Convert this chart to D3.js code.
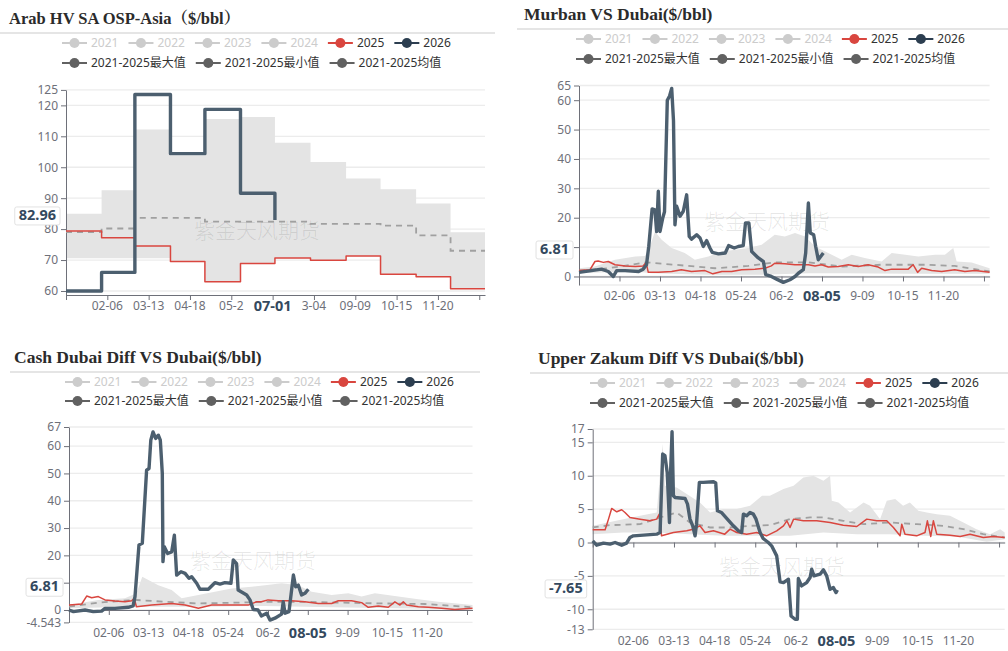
<!DOCTYPE html>
<html>
<head>
<meta charset="utf-8">
<script src="https://cdn.jsdelivr.net/npm/d3@7"></script>
<style>
  body { margin: 0; background: #fff; }
  svg { display: block; }
</style>
</head>
<body>
<svg id="chart" width="1008" height="651"></svg>
<script>
// legend entries
var legendYears = ["2021", "2022", "2023", "2024", "2025", "2026"];
var legendStats = ["2021-2025最大值", "2021-2025最小值", "2021-2025均值"];

// x axis labels (ticks every 36 days, day 36 .. 324)
var ospDateLabels = ["02-06", "03-13", "04-18", "05-2", "07-01", "3-04", "09-09", "10-15", "11-20"];
var diffDateLabels = ["02-06", "03-13", "04-18", "05-24", "06-2", "08-05", "9-09", "10-15", "11-20"];

// panel 1 : Arab HV OSP, monthly (day index of month start)
var ospMonthStart = [0, 31, 60, 91, 121, 152, 182, 213, 244, 274, 305, 335];
var osp2025 = [79.4, 77.2, 74.5, 69.5, 63.0, 68.9, 70.7, 69.9, 71.3, 65.4, 64.6, 60.7];
var osp2026 = [60.0, 66.0, 123.5, 104.4, 118.7, 91.6, 82.96];
var ospMax = [85.0, 92.6, 112.2, 103.8, 115.6, 116.2, 107.9, 101.7, 96.4, 92.9, 88.3, 79.0];
var ospMin = [70.6, 70.6, 70.6, 69.5, 63.0, 68.9, 70.7, 69.9, 71.3, 65.4, 64.6, 60.7];
var ospMean = [79.0, 80.2, 83.6, 83.6, 82.4, 82.4, 82.4, 81.7, 81.7, 81.1, 78.0, 73.0];

// panel 2 : Murban vs Dubai  [day, value]
var murban2026 = [[0,1.4],[11,2],[20,2.5],[26,1.7],[30.5,0],[33.5,2],[41,2],[53,1.7],[57,2.5],[60,4],[62,10.2],[65,23],[67.5,22.7],
  [69,15.3],[70.5,29],[72,15.3],[74.5,20],[76,22],[78.5,60],[80.5,61.4],[82.4,64],[84,53],[85.3,17.6],[86.8,23.9],[89.8,20.5],
  [92.7,22.2],[95.7,27.8],[98,13.6],[100,12.7],[104.6,14.2],[107.6,13.1],[110.5,10.2],[113.5,12.2],[116.4,9.7],[118.5,8.2],
  [124,7.7],[130,8],[133,10.5],[138,9.7],[141.6,10.2],[146,10.5],[148,18.2],[151,18.2],[153.5,8.5],[159.4,6.3],[163.9,5.1],
  [166,0.6],[171,0],[175.7,-0.9],[181.6,-2],[187.5,-1.1],[192,0],[195,1.1],[199.4,2.3],[201.5,8],[203.9,25],[205.6,14.8],
  [208.6,14.2],[210.4,10.2],[212.7,5.7],[217.2,8]];
var murban2025 = [[0,2],[9.8,2.3],[14.2,5.1],[17,5.3],[21.6,4.8],[26,5.1],[32,4],[41,3.6],[50,3.4],[57,3.6],[59.6,4.8],[61.6,1.4],
  [70.5,1.4],[82.4,1.7],[91,2.3],[100,1.7],[112,2],[119,0.9],[127,1.7],[135.7,1.7],[144.6,2.3],[156.4,2.5],[165.3,2.8],[171,3.6],
  [174,4.5],[183,4.3],[192,4],[204,4],[209.8,3.6],[215.7,4],[221.6,3.2],[230.5,3.4],[239.4,4],[248.3,3.4],[257,4],[266,3.2],
  [272,2],[278,2.5],[292.7,2.5],[297,4],[301,1.4],[304.6,2.8],[313.5,2],[322.4,1.7],[334,2.3],[343,1.7],[352,2],[365,1.4]];
var murbanMax = [[0,2.8],[14,3.4],[32,5.7],[50,6.8],[58.7,7],[63,10.2],[67.5,15.3],[73.5,12.5],[82.4,9.7],[94,8],[103,5.7],
  [115,6.8],[127,8.5],[138.7,9.1],[150.5,9.7],[162.4,10.8],[174,14.2],[183,13.6],[192,14.8],[201,13.6],[209.8,10.2],[221.6,8],
  [233.5,5.7],[242.4,7.4],[254,6.3],[269,5.1],[278,8],[290,7.4],[301.6,6.8],[316.4,7.4],[325.3,7.4],[332.7,9.7],[335.7,5.1],
  [349,4.8],[365,2.8]];
var murbanMin = [[0,1.1],[26,1.4],[56,1.4],[64.6,1.1],[115,0.6],[162,0.6],[204,1.1],[233.5,1.1],[292.7,0.9],[365,0.9]];
var murbanMean = [[0,2],[26,2.8],[60,4.8],[85,4],[121,2.8],[150.5,3.6],[174,4.8],[204,4.8],[233.5,3.4],[269,4],[307.6,4],
  [334,3.6],[365,1.7]];

// panel 3 : Cash Dubai diff vs Dubai
var cash2026 = [[0,0],[4,-0.6],[14.5,0],[22,-0.6],[29.5,-0.4],[32.6,0.6],[41.6,0.6],[53.7,1],[58,1.5],[59.7,4.9],[63.3,23.8],
  [66.3,24.4],[70.2,51.2],[72.4,51.8],[74,62.2],[76,65.2],[78.4,62.8],[80.8,64],[82.6,62.2],[84.4,50],[85,17.7],[86.2,23.2],
  [89.2,20.7],[92.9,21.3],[95.3,27.4],[97.4,12.8],[101.3,14],[105,13.4],[108.5,11.6],[111,12.2],[115.5,9.8],[118.5,7.6],
  [126,7.6],[132,10],[136.6,9.5],[141,10],[146.5,9.8],[148.6,18.3],[151.6,17],[153,7.3],[160.7,5.5],[163.7,3.7],[166.7,0.2],
  [171,0],[174,-2.2],[178.8,-1.2],[181.8,-3.7],[186.3,-3],[192.3,-1.5],[193.8,3],[195.4,-1.2],[199,-0.6],[203,12.8],[205,8.5],
  [207.4,9.1],[210.4,5.5],[213.4,6.1],[216.5,7.6]];
var cash2025 = [[0,1.8],[11.5,2.2],[16,5.1],[20.5,4.5],[26.5,4.9],[32.6,3.7],[41.6,3.3],[50.6,3],[56.7,3.4],[59,4.3],[61,1.2],
  [74.8,1.8],[92.9,2.4],[105,1.8],[117,0.6],[129,1.8],[141,1.8],[153,1.8],[162,1.8],[169.7,3],[174,3],[180,3.7],[189.3,3.4],
  [201.4,3.4],[213.4,3],[225.5,2.4],[237.6,2.4],[243.6,3.4],[255.6,3.4],[264.7,2.7],[270.7,1],[279.8,1.5],[288.8,1],[294.8,3],
  [299.4,1.8],[302.4,3],[305.4,1.8],[316,1.2],[325,1],[337,0.6],[349,0.2],[365,0.6]];
var cashMax = [[0,1.8],[26.5,3.7],[50.6,4.3],[61,6.1],[66.3,12.2],[71.8,11],[80.8,9.1],[92.9,7.3],[101.9,4.3],[117,5.5],[132,6.7],
  [147,7.9],[165.2,8.5],[177.3,9.1],[192.3,9.8],[207.4,9.1],[219.5,6.7],[237.6,5.5],[252.6,6.1],[264.7,4.9],[276.7,6.1],
  [297.9,4.9],[316,3.9],[334,3],[365,1.8]];
var cashMin = [[0,0.6],[56.7,1.2],[117,1.2],[177,1.5],[237.6,1],[298,0.6],[365,0.2]];
var cashMean = [[0,1.2],[26.5,2.7],[59.7,3.7],[86.8,3],[117,2.4],[153,2.7],[183,3],[213.4,3],[243.6,2.7],[282.8,2.4],[322,2.2],[365,1]];

// panel 4 : Upper Zakum diff vs Dubai
var zakum2026 = [[0,0.25],[3.5,-0.4],[9.5,-0.1],[15.4,-0.25],[19.8,0],[25.7,-0.4],[30,-0.1],[33,0.75],[36,1],[44.9,1.1],
  [56.7,1.25],[59.7,1.5],[62,13.25],[64,13],[66,10.5],[68,3],[69,10.5],[70.3,16.6],[71.5,7],[73,6.75],[81.8,6.6],[84,5.75],
  [86.2,3.5],[88.6,2.5],[90.7,1],[92,2.75],[94.5,9],[98,9],[107,9.1],[109,8.9],[110.5,4.75],[114,4.5],[118.7,3.6],[124.6,2.5],
  [129,1.75],[132,1.5],[133.5,4.25],[136.4,4],[139.4,4.5],[142.3,4.25],[144.7,3.5],[148.3,1.5],[151,0.6],[155.6,0],[158.5,-0.5],
  [163,-2],[166,-5.9],[169,-6],[173.4,-5.5],[175.7,-11],[179.3,-11.5],[181.3,-11.5],[182.2,-5.4],[185,-6.5],[189.6,-6],
  [192.6,-5.25],[194,-4],[196,-5],[201.4,-4.75],[204.4,-4.1],[207.3,-5],[210.3,-7],[213.2,-6.75],[215.6,-7.5],[216.8,-7.1]];
var zakum2025 = [[0,1.9],[11,1.9],[14,3.5],[16.8,5.1],[21.3,4.6],[25.7,4.9],[28.6,4.5],[33,3.75],[42,3.5],[50.8,3.25],[56.7,3.5],
  [59,4.25],[61,1],[71.5,1.5],[83.3,1.75],[89,2],[95,2.5],[99.5,1.5],[107,1.75],[117,1.25],[121.7,2],[127.6,1.5],[136.4,1.25],
  [145.3,1.5],[154,1],[163,1.75],[169,2.5],[172,3.25],[174.8,2.25],[178,3.5],[186.6,3.25],[198.5,3.25],[210.3,3],[222,2.6],
  [234,2.4],[242.8,3.5],[251.6,3.25],[260.5,3.25],[266.4,2.25],[272.3,1],[273.8,2.75],[276.7,1.25],[287,1],[294.4,1.5],
  [296.5,3.25],[299.5,0.9],[301.8,3.25],[304.8,1.25],[316.6,1.1],[325.5,0.9],[334.3,1.25],[346,0.75],[355,0.9],[365,0.75]];
var zakumMax = [[0,2.5],[27,3.5],[42,4],[56.7,4.5],[62,14.75],[64,8.5],[74.4,8.25],[83.3,7.25],[95,6],[104,4.5],[115.8,5],
  [127.6,5],[139.4,5.5],[150,7],[157,7],[169,8],[178,8.5],[186.6,9.75],[195.5,10],[204.4,9.25],[210.3,10],[211.8,6.25],
  [217.7,6],[228,4.5],[240,6],[245.7,5.5],[254.6,3.5],[260.5,6.25],[268,6.5],[275,5.5],[281,6],[288.5,4.75],[296,4.5],
  [304.8,4.25],[316.6,4],[328.4,3],[340,2],[352,1.25],[361,2],[365,1.5]];
var zakumMin = [[0,1.25],[27,1.5],[56.7,1.5],[86,1.25],[115.8,1],[145,1],[174.8,1],[204.4,1.5],[234,1.25],[263.4,1.25],[293,1],
  [322.5,0.9],[349,0.1],[365,0.5]];
var zakumMean = [[0,2.25],[15.4,2.6],[42,2.75],[59.7,3.75],[74.4,4.5],[86,3],[104,2.25],[121.7,2.25],[139.4,2.5],[157,2.6],
  [174.8,3.5],[192.6,3.75],[204.4,3.75],[222,3.25],[240,2.75],[263.4,3],[287,2.75],[310.7,2.5],[328.4,2],[346,1.25],[365,0.75]];

// y tick values and pointer labels
var ospTicks = [60, 70, 80, 90, 100, 110, 120, 125];
var murbanTicks = [0, 10, 20, 30, 40, 50, 60, 65];
var cashTicks = [-4.543, 0, 10, 20, 30, 40, 50, 60, 67];
var zakumTicks = [-13, -10, -5, 0, 5, 10, 15, 17];
var pointerLabels = ["82.96", "6.81", "6.81", "-7.65"];

// colours
var cRed = "#d9463f", cDark = "#4c5f6f", cDarkIcon = "#2c3e50", cGrey = "#cccccc", cStat = "#616161";
var fontSans = "'Noto Sans', 'Noto Sans CJK SC', sans-serif";

function monthly(vals) {
  return vals.map(function(v, i) { return [ospMonthStart[i], v]; });
}
function toEnd(pts) {
  return pts.concat([[365, pts[pts.length - 1][1]]]);
}

var panels = [
  {
    title: "Arab HV SA OSP-Asia（$/bbl）", titleSize: 16.5, titleW: 236, titleX: 9, titleY: 24, sep: [0, 495, 33],
    legX: 62, legY: [43, 63],
    x0: 66, x1: 485, yDom: [58.7, 125], yRange: [295, 89.9], axisAt: 58.7, labelY: 307,
    ticks: ospTicks, extraLines: [], labels: ospDateLabels, hi: 4, wm: [257, 232],
    step: true,
    max: toEnd(monthly(ospMax)), min: toEnd(monthly(ospMin)), mean: toEnd(monthly(ospMean)),
    s2025: toEnd(monthly(osp2025)), s2026: monthly(osp2026), pointerDy: -4
  },
  {
    title: "Murban VS Dubai($/bbl)", titleSize: 17.5, titleW: 0, titleX: 524, titleY: 20, sep: [517, 1008, 29],
    legX: 576, legY: [39, 59],
    x0: 579, x1: 989.6, yDom: [-2.9, 65], yRange: [285, 85.5], axisAt: 0, labelY: 297,
    ticks: murbanTicks, extraLines: [-2.9], labels: diffDateLabels, hi: 5, wm: [767, 223],
    step: false,
    max: murbanMax, min: murbanMin, mean: murbanMean, s2025: murban2025, s2026: murban2026, pointerDy: -3
  },
  {
    title: "Cash Dubai Diff VS Dubai($/bbl)", titleSize: 17.5, titleW: 0, titleX: 14, titleY: 363, sep: [10, 480, 372],
    legX: 65, legY: [382, 401],
    x0: 69, x1: 472.5, yDom: [-4.543, 67], yRange: [622.4, 427], axisAt: 0, labelY: 634,
    ticks: cashTicks, extraLines: [], labels: diffDateLabels, hi: 5, wm: [253, 562],
    step: false,
    max: cashMax, min: cashMin, mean: cashMean, s2025: cash2025, s2026: cash2026, pointerDy: -2
  },
  {
    title: "Upper Zakum Diff VS Dubai($/bbl)", titleSize: 17.5, titleW: 0, titleX: 538, titleY: 364, sep: [530, 1008, 373],
    legX: 590, legY: [383, 403],
    x0: 592.7, x1: 1004.7, yDom: [-13, 17], yRange: [629.3, 429], axisAt: 0, labelY: 642,
    ticks: zakumTicks, extraLines: [], labels: diffDateLabels, hi: 5, wm: [782, 568],
    step: false,
    max: zakumMax, min: zakumMin, mean: zakumMean, s2025: zakum2025, s2026: zakum2026, pointerDy: -1
  }
];

var svg = d3.select("#chart");

function drawLegend(g, p) {
  var cx = p.legX;
  legendYears.forEach(function(yr, i) {
    var col = i < 4 ? cGrey : (i == 4 ? cRed : cDarkIcon);
    var it = g.append("g").attr("transform", "translate(" + cx + "," + p.legY[0] + ")");
    it.append("line").attr("x1", 0).attr("x2", 25).attr("stroke", col).attr("stroke-width", 2);
    it.append("circle").attr("cx", 12.5).attr("r", 5).attr("fill", col);
    var t = it.append("text").attr("x", 29).attr("dy", "0.36em").text(yr)
      .style("font-family", fontSans).style("font-size", "12px").attr("fill", i < 4 ? "#cccccc" : "#333");
    cx += 29 + t.node().getComputedTextLength() + 10;
  });
  cx = p.legX;
  legendStats.forEach(function(s) {
    var it = g.append("g").attr("transform", "translate(" + cx + "," + p.legY[1] + ")");
    it.append("line").attr("x1", 0).attr("x2", 25).attr("stroke", cStat).attr("stroke-width", 2);
    it.append("circle").attr("cx", 12.5).attr("r", 5).attr("fill", cStat);
    var t = it.append("text").attr("x", 29).attr("dy", "0.36em").text(s)
      .style("font-family", fontSans).style("font-size", "12px").attr("fill", "#333");
    cx += 29 + t.node().getComputedTextLength() + 10;
  });
}

function drawPanel(p, pi) {
  var g = svg.append("g");

  var tt = g.append("text").attr("x", p.titleX).attr("y", p.titleY).text(p.title)
    .style("font-family", "'Liberation Serif', 'Noto Serif CJK SC', serif")
    .style("font-weight", "bold").style("font-size", p.titleSize + "px").attr("fill", "#2b2b2b");
  if (p.titleW && tt.node().getComputedTextLength() > p.titleW) {
    tt.attr("textLength", p.titleW).attr("lengthAdjust", "spacingAndGlyphs");
  }
  g.append("line").attr("x1", p.sep[0]).attr("x2", p.sep[1]).attr("y1", p.sep[2]).attr("y2", p.sep[2])
    .attr("stroke", "#dddddd").attr("stroke-width", 1.5);

  drawLegend(g, p);

  var x = d3.scaleLinear().domain([0, 365]).range([p.x0, p.x1]);
  var y = d3.scaleLinear().domain(p.yDom).range(p.yRange);

  // pointer position (last value of 2026)
  var last = p.s2026[p.s2026.length - 1][1];
  var py = y(last) + p.pointerDy;

  // split lines
  g.append("g").selectAll("line").data(p.ticks.concat(p.extraLines)).join("line")
    .attr("x1", p.x0).attr("x2", p.x1)
    .attr("y1", function(d) { return y(d); }).attr("y2", function(d) { return y(d); })
    .attr("stroke", "#ececec").attr("stroke-width", 1.3);

  // band
  var lineGen = d3.line().x(function(d) { return x(d[0]); }).y(function(d) { return y(d[1]); });
  if (p.step) lineGen.curve(d3.curveStepAfter);
  if (p.step) {
    var area = d3.area().curve(d3.curveStepAfter)
      .x(function(d) { return x(d[0]); })
      .y0(function(d, i) { return y(p.min[i][1]); })
      .y1(function(d) { return y(d[1]); });
    g.append("path").attr("d", area(p.max)).attr("fill", "#e4e4e4");
  } else {
    var top = lineGen(p.max);
    var bot = lineGen(p.min.slice().reverse()).replace(/^M/, "L");
    g.append("path").attr("d", top + bot + "Z").attr("fill", "#e4e4e4");
  }

  // watermark
  g.append("text").attr("x", p.wm[0]).attr("y", p.wm[1]).attr("text-anchor", "middle")
    .attr("dominant-baseline", "middle").text("紫金天风期货")
    .style("font-family", "'Noto Sans CJK SC', sans-serif").style("font-size", "21px")
    .style("font-weight", "300").attr("fill", "#000").attr("fill-opacity", 0.1);

  // y axis (labels hidden behind the pointer box are left out)
  var yAxis = d3.axisLeft(y).tickValues(p.ticks).tickSize(5).tickSizeOuter(0).tickPadding(3)
    .tickFormat(function(d) { return Math.abs(y(d) - py) < 11 ? "" : String(d); });
  var ya = g.append("g").attr("transform", "translate(" + p.x0 + ",0)").call(yAxis);
  ya.select(".domain").attr("stroke", "#6e7079");
  ya.selectAll(".tick line").attr("stroke", "#6e7079");
  ya.selectAll(".tick text").attr("fill", "#6e7079").style("font-family", fontSans).style("font-size", "12px");

  // x axis
  var xAxis = d3.axisBottom(x).tickValues(d3.range(0, 361, 36)).tickSize(5).tickSizeOuter(0).tickFormat("");
  var xa = g.append("g").attr("transform", "translate(0," + y(p.axisAt) + ")").call(xAxis);
  xa.select(".domain").attr("stroke", "#6e7079");
  xa.selectAll(".tick line").attr("stroke", "#6e7079");

  g.append("g").selectAll("text").data(p.labels).join("text")
    .attr("x", function(d, i) { return x(36 * (i + 1)); })
    .attr("y", p.labelY).attr("text-anchor", "middle").attr("dominant-baseline", "middle")
    .text(function(d) { return d; })
    .style("font-family", fontSans)
    .style("font-size", function(d, i) { return i == p.hi ? "14.5px" : "12px"; })
    .style("font-weight", function(d, i) { return i == p.hi ? "bold" : "normal"; })
    .attr("fill", function(d, i) { return i == p.hi ? "#34495e" : "#6e7079"; });

  // mean, 2025, 2026
  g.append("path").attr("d", lineGen(p.mean)).attr("fill", "none")
    .attr("stroke", "#a0a0a0").attr("stroke-width", 1.8).attr("stroke-dasharray", "6,5");
  g.append("path").attr("d", lineGen(p.s2025)).attr("fill", "none")
    .attr("stroke", cRed).attr("stroke-width", 1.5).attr("stroke-linejoin", "round");
  g.append("path").attr("d", lineGen(p.s2026)).attr("fill", "none")
    .attr("stroke", cDark).attr("stroke-width", 3.4).attr("stroke-linejoin", "round");

  // y pointer label
  var lab = g.append("g");
  var lt = lab.append("text").attr("x", p.x0 - 10).attr("y", py).attr("text-anchor", "end")
    .attr("dominant-baseline", "middle").text(pointerLabels[pi])
    .style("font-family", fontSans).style("font-weight", "bold").style("font-size", "14.5px").attr("fill", "#34495e");
  var w = lt.node().getComputedTextLength();
  lab.insert("rect", "text").attr("x", p.x0 - 14 - w).attr("y", py - 9).attr("width", w + 8).attr("height", 18)
    .attr("fill", "#fff").attr("stroke", "#e2e2e2").attr("rx", 2);
}

panels.forEach(drawPanel);
</script>
</body>
</html>
